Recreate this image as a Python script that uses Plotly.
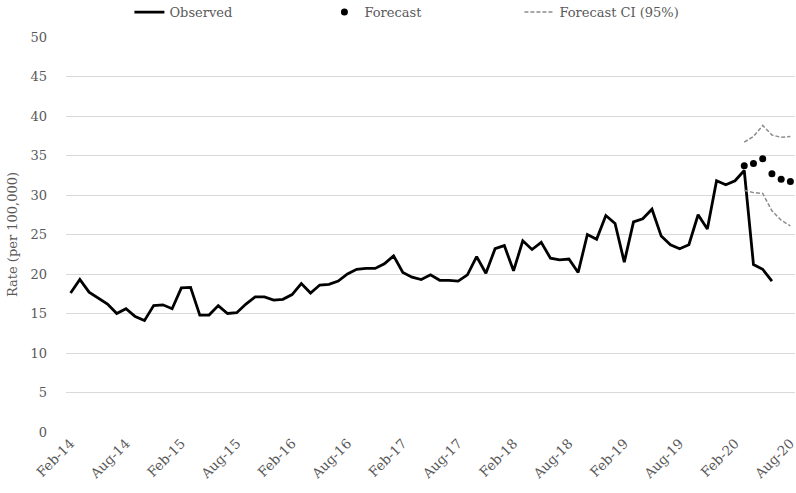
import pandas as pd
import plotly.graph_objects as go

# Categories: monthly, Feb-14 .. Aug-20
months = list(pd.date_range("2014-02-01", "2020-08-01", freq="MS").strftime("%b-%y"))
tick_labels = months[::6]

observed = [17.6, 19.3, 17.7, 17.0, 16.2, 15.0, 15.6, 14.6, 14.1, 16.0,
            16.1, 15.6, 18.25, 18.3, 14.8, 14.8, 16.0, 15.0, 15.1, 16.2,
            17.1, 17.1, 16.7, 16.8, 17.4, 18.8, 17.6, 18.6, 18.7, 19.1,
            20.0, 20.6, 20.7, 20.7, 21.3, 22.3, 20.2, 19.6, 19.3, 19.9,
            19.2, 19.2, 19.1, 19.9, 22.2, 20.1, 23.2, 23.6, 20.4, 24.2,
            23.1, 24.0, 22.0, 21.8, 21.9, 20.2, 25.0, 24.4, 27.4, 26.4,
            21.5, 26.6, 27.0, 28.2, 24.8, 23.7, 23.2, 23.7, 27.5, 25.7,
            31.8, 31.3, 31.8, 33.1, 21.2, 20.6, 19.1]
observed_months = months[:len(observed)]

forecast_months = ["Mar-20", "Apr-20", "May-20", "Jun-20", "Jul-20", "Aug-20"]
forecast = [33.7, 34.0, 34.6, 32.7, 32.0, 31.7]
ci_upper = [36.7, 37.4, 38.8, 37.6, 37.3, 37.4]
ci_lower = [30.6, 30.3, 30.2, 28.0, 26.8, 26.1]

FONT = "DejaVu Serif"
GREY = "#595959"

fig = go.Figure()
fig.add_trace(go.Scatter(x=observed_months, y=observed, mode="lines", name="Observed",
                         line=dict(color="black", width=2.8), cliponaxis=False))
fig.add_trace(go.Scatter(x=forecast_months, y=forecast, mode="markers", name="Forecast",
                         marker=dict(color="black", size=7), cliponaxis=False))
fig.add_trace(go.Scatter(x=forecast_months, y=ci_upper, mode="lines", name="Forecast CI (95%)",
                         line=dict(color="#8c8c8c", width=1.5, dash="4px,2px"),
                         legendgroup="ci", cliponaxis=False))
fig.add_trace(go.Scatter(x=forecast_months, y=ci_lower, mode="lines", name="Forecast CI (95%)",
                         line=dict(color="#8c8c8c", width=1.5, dash="4px,2px"),
                         legendgroup="ci", showlegend=False, cliponaxis=False))

fig.update_layout(
    width=796, height=493,
    margin=dict(l=66, r=1, t=37, b=61, autoexpand=False),
    paper_bgcolor="white", plot_bgcolor="white",
    font=dict(family=FONT, size=13, color=GREY),
    showlegend=True,
    legend=dict(orientation="h", x=0.087, xanchor="left", y=1.063, yanchor="middle",
                yref="paper", entrywidth=150, font=dict(family=FONT, size=13, color=GREY),
                bgcolor="rgba(0,0,0,0)"),
    xaxis=dict(type="category", categoryorder="array", categoryarray=months,
               range=[-0.5, len(months) - 0.5], automargin=False,
               tickmode="array", tickvals=tick_labels, ticktext=tick_labels,
               tickangle=-45, showgrid=False, showline=False, zeroline=False,
               ticks="", tickfont=dict(family=FONT, size=13.5, color=GREY)),
    yaxis=dict(range=[0, 50], dtick=5, showgrid=True, gridcolor="#d9d9d9", gridwidth=1,
               zeroline=False, showline=False, ticks="", automargin=False,
               ticklabelstandoff=18,
               tickfont=dict(family=FONT, size=13, color=GREY),
               title=dict(text="Rate (per 100,000)", font=dict(family=FONT, size=13, color=GREY),
                          standoff=9)),
)

fig.write_html("out.html", config={"displayModeBar": False},
               post_script="document.body.style.margin='0px';document.body.style.overflow='hidden';")
